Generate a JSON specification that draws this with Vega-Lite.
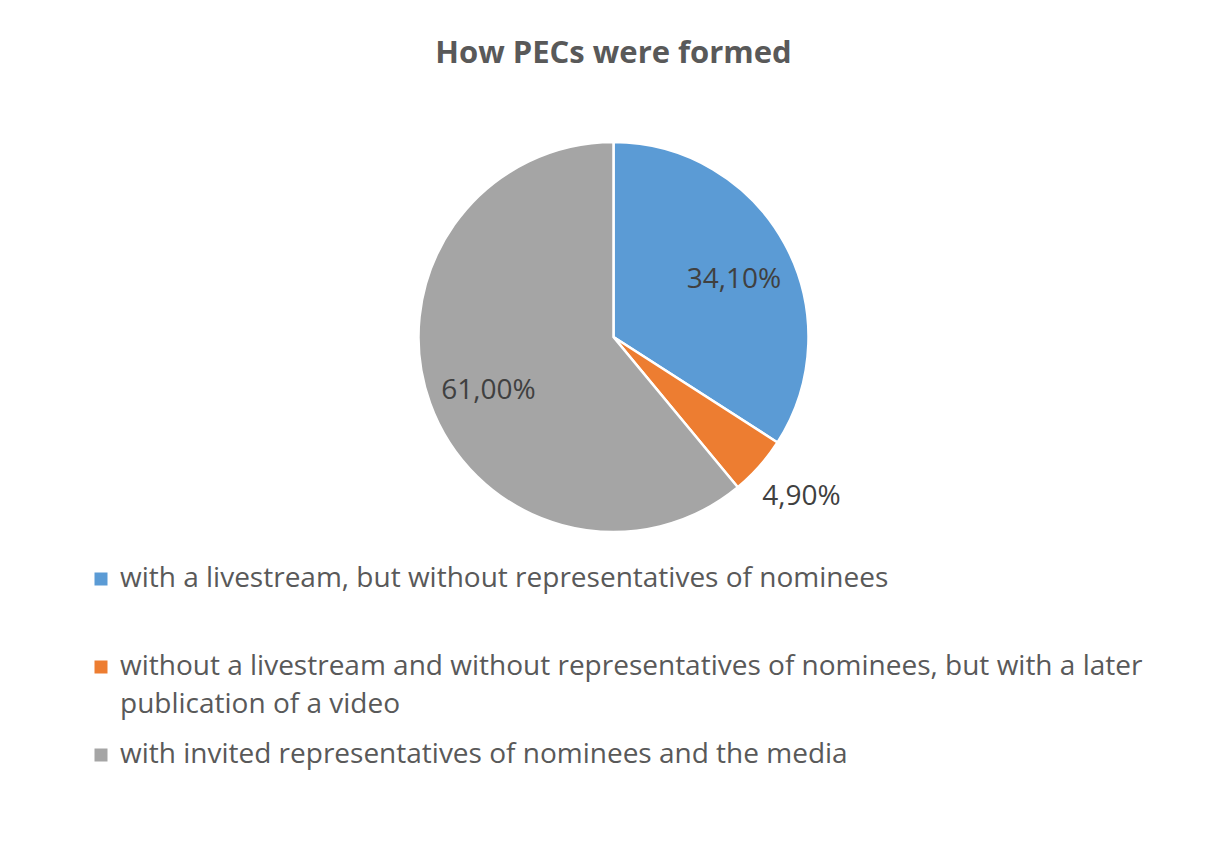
{
  "$schema": "https://vega.github.io/schema/vega-lite/v6.json",
  "width": 1207,
  "height": 474,
  "autosize": {"type": "none"},
  "padding": {"left": 10, "top": 100, "right": 0, "bottom": 267},
  "background": "white",
  "config": {
    "view": {"stroke": null},
    "font": "Open Sans",
    "style": {"guide-label": {"lineHeight": 38}},
    "locale": {"number": {"decimal": ",", "thousands": ".", "grouping": [3], "currency": ["", " €"]}}
  },
  "title": {
    "text": "How PECs were formed",
    "fontSize": 31,
    "fontWeight": "bold",
    "color": "#595959",
    "font": "Open Sans",
    "anchor": "middle",
    "frame": "group",
    "offset": 30
  },
  "data": {
    "values": [
      {"category": "with a livestream, but without representatives of nominees", "share": 0.341},
      {"category": "without a livestream and without representatives of nominees, but with a later publication of a video", "share": 0.049},
      {"category": "with invited representatives of nominees and the media", "share": 0.61}
    ]
  },
  "transform": [{"window": [{"op": "row_number", "as": "slice_order"}]}],
  "encoding": {
    "theta": {"field": "share", "type": "quantitative", "stack": true},
    "order": {"field": "slice_order", "type": "quantitative"},
    "color": {
      "field": "category",
      "type": "nominal",
      "scale": {
        "domain": [
          "with a livestream, but without representatives of nominees",
          "without a livestream and without representatives of nominees, but with a later publication of a video",
          "with invited representatives of nominees and the media"
        ],
        "range": ["#5B9BD5", "#ED7D31", "#A5A5A5"]
      },
      "legend": {
        "orient": "none",
        "legendX": 77,
        "legendY": 465,
        "direction": "vertical",
        "title": null,
        "symbolType": "square",
        "symbolSize": 169,
        "symbolStrokeWidth": 0,
        "labelFont": "Open Sans",
        "labelFontSize": 28,
        "labelColor": "#595959",
        "labelLimit": 1150,
        "labelOffset": 5,
        "rowPadding": 22,
        "padding": 0,
        "labelExpr": "indexof(datum.label, ' publication') > 0 ? [slice(datum.label, 0, indexof(datum.label, ' publication')), slice(datum.label, indexof(datum.label, ' publication') + 1)] : [datum.label, '']",
        "encode": {"labels": {"dy": {"value": 19}, "lineHeight": {"value": 38}}}
      }
    }
  },
  "layer": [
    {"mark": {"type": "arc", "outerRadius": 195, "stroke": "white", "strokeWidth": 2.5}},
    {
      "mark": {"type": "text", "radius": 135, "fontSize": 28, "font": "Open Sans", "dx": 2, "dy": 8},
      "encoding": {
        "color": {"value": "#404040"},
        "text": {"condition": {"test": "datum.share > 0.1", "field": "share", "type": "quantitative", "format": ".2%"}, "value": ""}
      }
    },
    {
      "mark": {"type": "text", "radius": 246, "fontSize": 28, "font": "Open Sans", "dx": 4, "dy": -3},
      "encoding": {
        "color": {"value": "#404040"},
        "text": {"condition": {"test": "datum.share <= 0.1", "field": "share", "type": "quantitative", "format": ".2%"}, "value": ""}
      }
    }
  ]
}
